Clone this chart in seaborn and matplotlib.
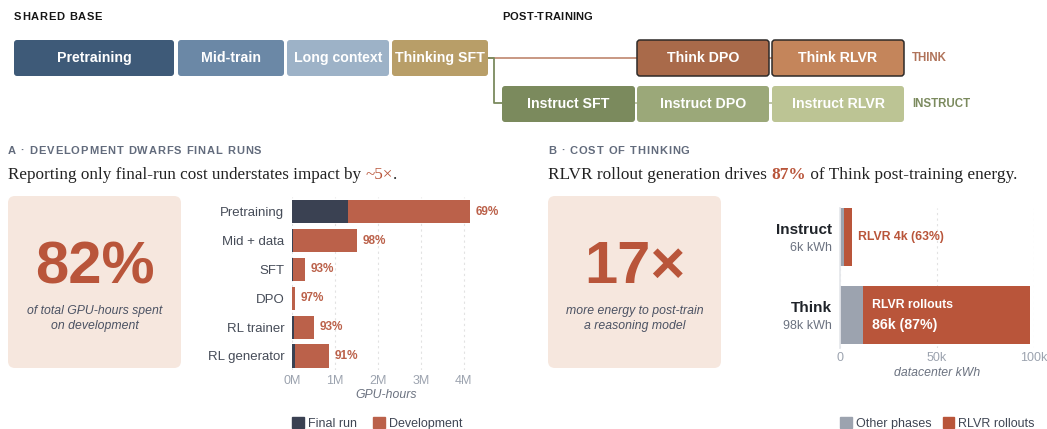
import matplotlib
matplotlib.use('Agg')
import matplotlib.pyplot as plt
import matplotlib.transforms as mtransforms
from matplotlib.patches import FancyBboxPatch, Patch
import pandas as pd
import seaborn as sns

# ---- data -------------------------------------------------------------
# panel A: GPU-hours (millions) per stage
stages = ['Pretraining', 'Mid + data', 'SFT', 'DPO', 'RL trainer', 'RL generator']
final_run = [1.30, 0.03, 0.021, 0.002, 0.036, 0.078]
development = [2.84, 1.485, 0.279, 0.068, 0.474, 0.787]
dev_share = ['69%', '98%', '93%', '97%', '93%', '91%']
gpu_ticks = [0, 1, 2, 3, 4]
gpu_ticklabels = ['0M', '1M', '2M', '3M', '4M']

# panel B: datacenter kWh (thousands) per model
models = ['Instruct', 'Think']
model_totals = ['6k kWh', '98k kWh']
other_phases = [2.2, 12.0]
rlvr_rollouts = [3.8, 86.0]
kwh_ticks = [0, 50, 100]
kwh_ticklabels = ['0', '50k', '100k']

# pipeline diagram
base_stages = ['Pretraining', 'Mid-train', 'Long context', 'Thinking SFT']
think_stages = ['Think DPO', 'Think RLVR']
instruct_stages = ['Instruct SFT', 'Instruct DPO', 'Instruct RLVR']

# ---- style ------------------------------------------------------------
W, H = 1047, 429
FINAL = '#3a4152'
DEV = '#bb614a'
RUST = '#b9553a'
OTHER = '#9ca3af'
CARD = '#f6e7de'
GREY = '#6b7280'
TICK = '#9ca3af'

sns.set_theme(style='white')
plt.rcParams['font.family'] = ['Liberation Sans', 'DejaVu Sans']

fig = plt.figure(figsize=(W / 100, H / 100), dpi=100)
bg = fig.add_axes([0, 0, 1, 1])
bg.set_xlim(0, W)
bg.set_ylim(H, 0)
bg.axis('off')
rend = fig.canvas.get_renderer()


def box(x0, x1, y0, y1, fc, ec='none', lw=0, r=3):
    bg.add_patch(FancyBboxPatch((x0, y0), x1 - x0, y1 - y0,
                                boxstyle=f'round,pad=0,rounding_size={r}',
                                fc=fc, ec=ec, lw=lw, zorder=2))


def text_w(s, **kw):
    t = bg.text(0, 0, s, **kw)
    w = t.get_window_extent(renderer=rend).width
    t.remove()
    return w


def tracked(x, y, s, size, color, track):
    # letter-spaced caps heading
    kw = dict(fontsize=size, fontweight='bold')
    ref = text_w('I', **kw)
    for i, ch in enumerate(s):
        off = text_w(s[:i] + 'I', **kw) - ref if i else 0
        bg.text(x + off + i * track, y, ch, color=color, va='baseline', **kw)


#%% top pipeline
tracked(14, 20, 'SHARED BASE', 8, '#161616', 0.7)
tracked(502, 20, 'POST-TRAINING', 8, '#161616', 0.3)

# connectors
bg.plot([488, 637], [58, 58], color='#c4907a', lw=1.3, zorder=1)
bg.plot([769, 772], [58, 58], color='#c4907a', lw=1.3, zorder=1)
bg.plot([488, 493.5, 493.5, 502], [58, 58, 103, 103], color='#7b8a5e', lw=1.3, zorder=1.5)
bg.plot([635, 637], [103, 103], color='#b7bfa0', lw=1.3, zorder=1)
bg.plot([769, 772], [103, 103], color='#b7bfa0', lw=1.3, zorder=1)

base_x = [(14, 174), (178, 284), (287, 389), (392, 488)]
base_col = ['#3e5a78', '#6b88a6', '#9db2c7', '#b89e68']
for name, (x0, x1), c in zip(base_stages, base_x, base_col):
    box(x0, x1, 40, 76, c)
    bg.text((x0 + x1) / 2, 58, name, ha='center', va='center', fontsize=10.2,
            fontweight='bold', color='white', zorder=3)

post_x = [(637, 769), (772, 904)]
think_col = ['#a96a4a', '#c4855b']
for name, (x0, x1), c in zip(think_stages, post_x, think_col):
    box(x0, x1, 40, 76, c, ec='#2e2a28', lw=1.1)
    bg.text((x0 + x1) / 2, 58, name, ha='center', va='center', fontsize=10.2,
            fontweight='bold', color='white', zorder=3)
bg.text(912, 58, 'THINK', va='center', fontsize=8.3, fontweight='bold', color='#b0735a')

inst_x = [(502, 635), (637, 769), (772, 904)]
inst_col = ['#7b8a5d', '#9ba879', '#bcc494']
for name, (x0, x1), c in zip(instruct_stages, inst_x, inst_col):
    box(x0, x1, 86, 122, c)
    bg.text((x0 + x1) / 2, 104, name, ha='center', va='center', fontsize=10.2,
            fontweight='bold', color='white', zorder=3)
bg.text(912, 104, 'INSTRUCT', va='center', fontsize=8.3, fontweight='bold', color='#7b8a5e')


#%% headings
def rich_line(x, y, parts, size, family):
    for s, col, wt in parts:
        t = bg.text(x, y, s, fontsize=size, color=col, fontweight=wt, family=family)
        x += t.get_window_extent(renderer=rend).width


tracked(8, 154, 'A · DEVELOPMENT DWARFS FINAL RUNS', 8, '#626b7c', 0.93)
tracked(548, 154, 'B · COST OF THINKING', 8, '#626b7c', 0.9)
rich_line(8, 179, [('Reporting only final-run cost understates impact by ', '#222222', 'normal'),
                   ('~5×', RUST, 'normal'), ('.', '#222222', 'normal')], 12.3, 'Liberation Serif')
rich_line(548, 179, [('RLVR rollout generation drives ', '#222222', 'normal'),
                     ('87%', RUST, 'bold'), (' of Think post-training energy.', '#222222', 'normal')],
          12.4, 'Liberation Serif')

# stat cards
for x0, big, cap in [(8, '82%', ['of total GPU-hours spent', 'on development']),
                     (548, '17×', ['more energy to post-train', 'a reasoning model'])]:
    box(x0, x0 + 173, 196, 368, CARD, r=7)
    bg.text(x0 + 87, 283, big, ha='center', va='baseline', fontsize=43,
            fontweight='bold', color=RUST, zorder=3)
    for k, line in enumerate(cap):
        bg.text(x0 + 87, 314 + 15.5 * k, line, ha='center', va='baseline', fontsize=8.8,
                style='italic', color='#4b5263', zorder=3)


#%% panel A bars
axA = fig.add_axes([292 / W, 1 - 370.4 / H, 188.8 / W, 173.1 / H])
dfA = pd.DataFrame({'stage': stages, 'final': final_run, 'dev': development})
dfA['total'] = dfA['final'] + dfA['dev']
sns.barplot(data=dfA, y='stage', x='total', orient='h', color=DEV, width=0.8,
            saturation=1, errorbar=None, linewidth=0, ax=axA)
sns.barplot(data=dfA, y='stage', x='final', orient='h', color=FINAL, width=0.8,
            saturation=1, errorbar=None, linewidth=0, ax=axA)
for i, (tot, lab) in enumerate(zip(dfA['total'], dev_share)):
    axA.text(tot + 0.13, i, lab, va='center', fontsize=8.5, fontweight='bold', color=DEV)
axA.set_xlim(0, 4.4)
axA.set_xticks(gpu_ticks)
axA.set_xticklabels(gpu_ticklabels)
axA.set_xlabel('GPU-hours', style='italic', fontsize=8.8, color=GREY, labelpad=2)
axA.set_ylabel('')
axA.tick_params(axis='x', length=0, labelsize=9, colors=TICK, pad=3)
axA.tick_params(axis='y', length=0, labelsize=9.5, colors='#464c58', pad=5.5)
axA.xaxis.grid(True, ls=(0, (2, 3)), color='#e2e2e2', lw=0.8)
axA.set_axisbelow(True)
sns.despine(ax=axA, top=True, right=True, bottom=True, left=True)
axA.patch.set_alpha(0)
axA.legend(handles=[Patch(color=FINAL, label='Final run'), Patch(color=DEV, label='Development')],
           loc='upper left', bbox_to_anchor=(292 / W, 1 - 417 / H), bbox_transform=fig.transFigure,
           ncol=2, frameon=False, borderpad=0, borderaxespad=0, handlelength=0.95,
           handleheight=0.95, handletextpad=0.3, columnspacing=1.3, fontsize=9,
           labelcolor='#3f4654')

#%% panel B bars
axB = fig.add_axes([840 / W, 1 - 348 / H, 194 / W, 140 / H])
dfB = pd.DataFrame({'model': models, 'other': other_phases, 'rlvr': rlvr_rollouts})
dfB['total'] = dfB['other'] + dfB['rlvr']
sns.barplot(data=dfB, y='model', x='total', orient='h', color=RUST, width=0.74,
            saturation=1, errorbar=None, linewidth=0, ax=axB)
sns.barplot(data=dfB, y='model', x='other', orient='h', color=OTHER, width=0.74,
            saturation=1, errorbar=None, linewidth=0, ax=axB)
axB.set_xlim(0, 100)
axB.set_ylim(1.42, -0.37)
axB.set_xticks(kwh_ticks)
axB.set_xticklabels(kwh_ticklabels)
axB.set_yticks([])
axB.set_ylabel('')
axB.set_xlabel('datacenter kWh', style='italic', fontsize=8.8, color=GREY, labelpad=2)
axB.tick_params(axis='x', length=0, labelsize=9, colors=TICK, pad=3)
axB.xaxis.grid(True, ls=(0, (2, 3)), color='#e2e2e2', lw=0.8)
axB.set_axisbelow(True)
sns.despine(ax=axB, top=True, right=True, bottom=True, left=False)
axB.spines['left'].set_color('#e5e7eb')
axB.patch.set_alpha(0)

ylab = mtransforms.blended_transform_factory(axB.transAxes, axB.transData)
for i, (m, tot) in enumerate(zip(models, model_totals)):
    axB.annotate(m, xy=(0, i), xycoords=ylab, xytext=(-6, 4.8), textcoords='offset points',
                 ha='right', va='center', fontsize=11, fontweight='bold', color='#1f2329')
    axB.annotate(tot, xy=(0, i), xycoords=ylab, xytext=(-6, -8), textcoords='offset points',
                 ha='right', va='center', fontsize=9, color='#6b7280')

# rollout labels
axB.annotate(f'RLVR {rlvr_rollouts[0]:.0f}k (63%)', xy=(dfB['total'][0], 0), xytext=(4.5, 0),
             textcoords='offset points', va='center', fontsize=8.8, fontweight='bold', color=RUST)
axB.annotate('RLVR rollouts', xy=(other_phases[1], 1), xytext=(6.5, 7.2),
             textcoords='offset points', va='center', fontsize=8.8, fontweight='bold', color='white')
axB.annotate(f'{rlvr_rollouts[1]:.0f}k (87%)', xy=(other_phases[1], 1), xytext=(6.5, -7.2),
             textcoords='offset points', va='center', fontsize=10.2, fontweight='bold', color='white')

axB.legend(handles=[Patch(color=OTHER, label='Other phases'), Patch(color=RUST, label='RLVR rollouts')],
           loc='upper left', bbox_to_anchor=(840 / W, 1 - 417 / H), bbox_transform=fig.transFigure,
           ncol=2, frameon=False, borderpad=0, borderaxespad=0, handlelength=0.95,
           handleheight=0.95, handletextpad=0.3, columnspacing=0.9, fontsize=9,
           labelcolor='#3f4654')

fig.savefig('out.png', dpi=100)
